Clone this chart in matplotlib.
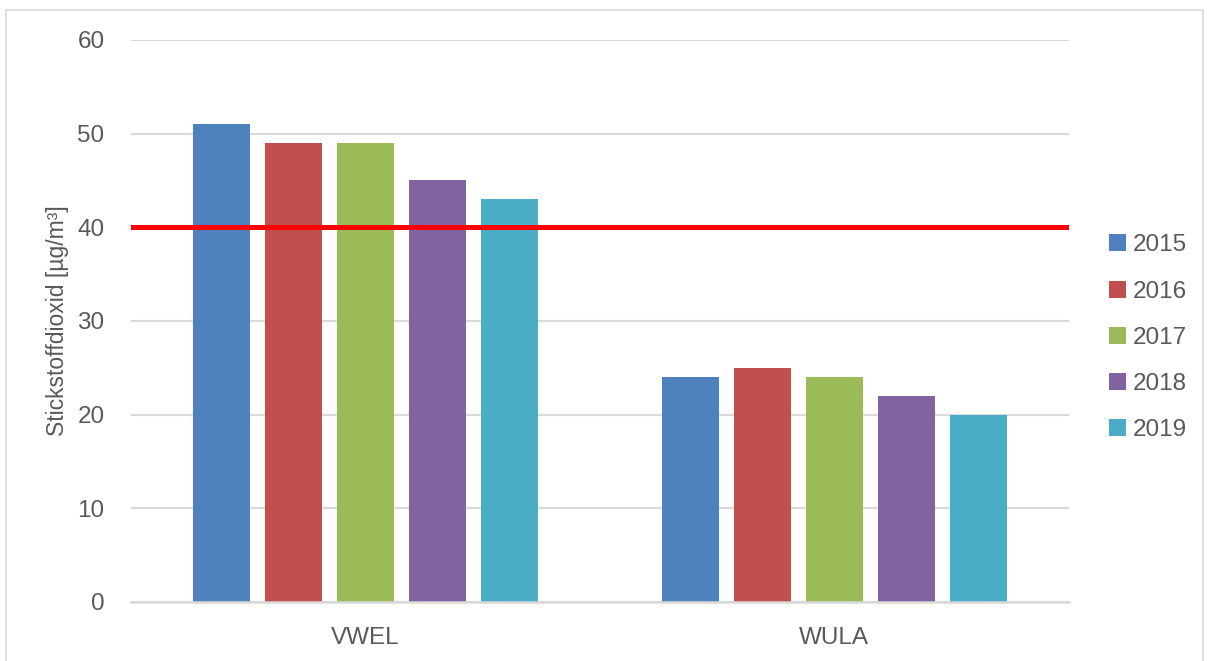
import matplotlib.pyplot as plt
import numpy as np
from matplotlib.patches import Rectangle

plt.rcParams['font.family'] = ['Liberation Sans', 'DejaVu Sans']

stations = ['VWEL', 'WULA']
years = ['2015', '2016', '2017', '2018', '2019']
values = {
    '2015': [51, 24],
    '2016': [49, 25],
    '2017': [49, 24],
    '2018': [45, 22],
    '2019': [43, 20],
}
colors = ['#4F81BD', '#C0504D', '#9BBB59', '#8064A2', '#4BACC6']
limit_value = 40

text_gray = '#595959'
grid_gray = '#D9D9D9'

fig = plt.figure(figsize=(12.07, 6.61), dpi=100)
ax = fig.add_axes([0.1085, 0.0893, 0.777, 0.8502])

x = np.arange(len(stations))
width = 0.1215
step = 0.1535
for i, (yr, c) in enumerate(zip(years, colors)):
    ax.bar(x + (i - 2) * step, values[yr], width=width, color=c, label=yr, zorder=2)

ax.axhline(limit_value, color='#FF0000', lw=3.6, zorder=3)

ax.set_xlim(-0.5, 1.5)
ax.set_ylim(0, 60)
ax.set_yticks(range(0, 61, 10))
ax.set_xticks(x)
ax.set_xticklabels(stations)
ax.yaxis.grid(True, color=grid_gray, lw=1.5, zorder=0)
ax.set_axisbelow(True)
for s in ['top', 'right', 'left']:
    ax.spines[s].set_visible(False)
ax.spines['bottom'].set_color(grid_gray)
ax.spines['bottom'].set_linewidth(1.8)
ax.tick_params(axis='both', length=0, labelsize=17.5, colors=text_gray)
ax.tick_params(axis='y', pad=19)
ax.tick_params(axis='x', pad=18)
ax.set_ylabel('Stickstoffdioxid [µg/m³]', fontsize=16.5, color=text_gray, labelpad=6)

leg = ax.legend(loc='center left', bbox_to_anchor=(1.032, 0.47), frameon=False,
                fontsize=17.5, handlelength=0.7, handleheight=0.7, handletextpad=0.3,
                labelspacing=1.0, borderaxespad=0)
for t in leg.get_texts():
    t.set_color(text_gray)

fig.patches.append(Rectangle((0.005, -0.01), 0.992, 0.995, transform=fig.transFigure,
                             fill=False, edgecolor='#D9D9D9', lw=1.2))

fig.savefig('out.png', dpi=100)
